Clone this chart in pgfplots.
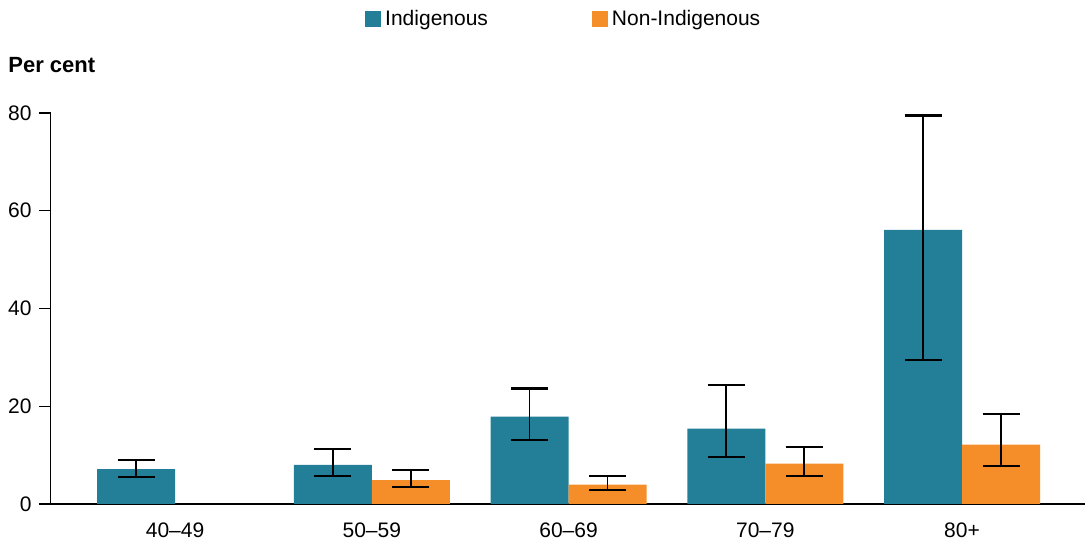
\documentclass[border=0pt]{standalone}
\usepackage{fontspec}
\setmainfont{Liberation Sans}
\usepackage{pgfplots}
\usepackage{pgfplotstable}
\pgfplotsset{compat=1.18}
\definecolor{indig}{RGB}{35,127,151}
\definecolor{nonind}{RGB}{245,142,40}
\pgfplotstableread{
x y lo hi
0 7.16 5.59 9.00
1 7.98 5.66 11.18
2 17.86 13.16 23.65
3 15.40 9.54 24.40
4 56.10 29.50 79.50
}\indigtab
\pgfplotstableread{
x y lo hi
1 4.91 3.54 6.95
2 3.95 2.79 5.79
3 8.25 5.73 11.72
4 12.13 7.77 18.47
}\nontab
\begin{document}
\fontsize{10.5pt}{12.6pt}\selectfont
\begin{tikzpicture}
\path[use as bounding box] (-25.35pt,-20.5pt) rectangle (517.15pt,252pt);
\begin{axis}[
  scale only axis,
  width=517.15pt, height=195.5pt,
  xmin=-0.632, xmax=4.625, ymin=0, ymax=80,
  enlargelimits=false,
  clip=false,
  axis x line*=bottom, axis y line*=left,
  axis line style={line width=0.7pt, black},
  ybar=0pt, bar width=39pt,
  xtick={0,1,2,3,4},
  xticklabels={40–49,50–59,60–69,70–79,80+},
  xtick style={draw=none},
  ytick={0,20,40,60,80},
  tick align=outside,
  major tick length=5.85pt,
  ytick style={line width=0.7pt, black},
  /pgf/number format/assume math mode=true,
  yticklabel style={font=\fontsize{10.5pt}{12.6pt}\selectfont},
  xticklabel style={font=\fontsize{10.5pt}{12.6pt}\selectfont},
  legend columns=2,
  legend style={draw=none, at={(0.497,1.2404)}, anchor=center,
    font=\fontsize{10.5pt}{12.6pt}\selectfont,
    /tikz/every even column/.append style={column sep=50pt}},
  legend image code/.code={\fill[#1,draw=none] (0pt,-4pt) rectangle (8pt,4pt);},
  error bars/error bar style={line width=0.85pt, black},
  error bars/error mark options={rotate=90, line width=1.1pt, draw=black, mark size=9.25pt},
]
\addplot[fill=indig, draw=none,
  error bars/.cd, y dir=both, y explicit]
  table[x=x, y=y, y error plus expr=\thisrow{hi}-\thisrow{y}, y error minus expr=\thisrow{y}-\thisrow{lo}] {\indigtab};
\addlegendentry{Indigenous}
\addplot[fill=nonind, draw=none,
  error bars/.cd, y dir=both, y explicit]
  table[x=x, y=y, y error plus expr=\thisrow{hi}-\thisrow{y}, y error minus expr=\thisrow{y}-\thisrow{lo}] {\nontab};
\addlegendentry{Non-Indigenous}
\node[anchor=west, inner sep=0pt, font=\bfseries\fontsize{11pt}{13pt}\selectfont, xshift=-21.35pt, yshift=24pt] at (rel axis cs:0,1) {Per cent};
\end{axis}
\end{tikzpicture}
\end{document}
